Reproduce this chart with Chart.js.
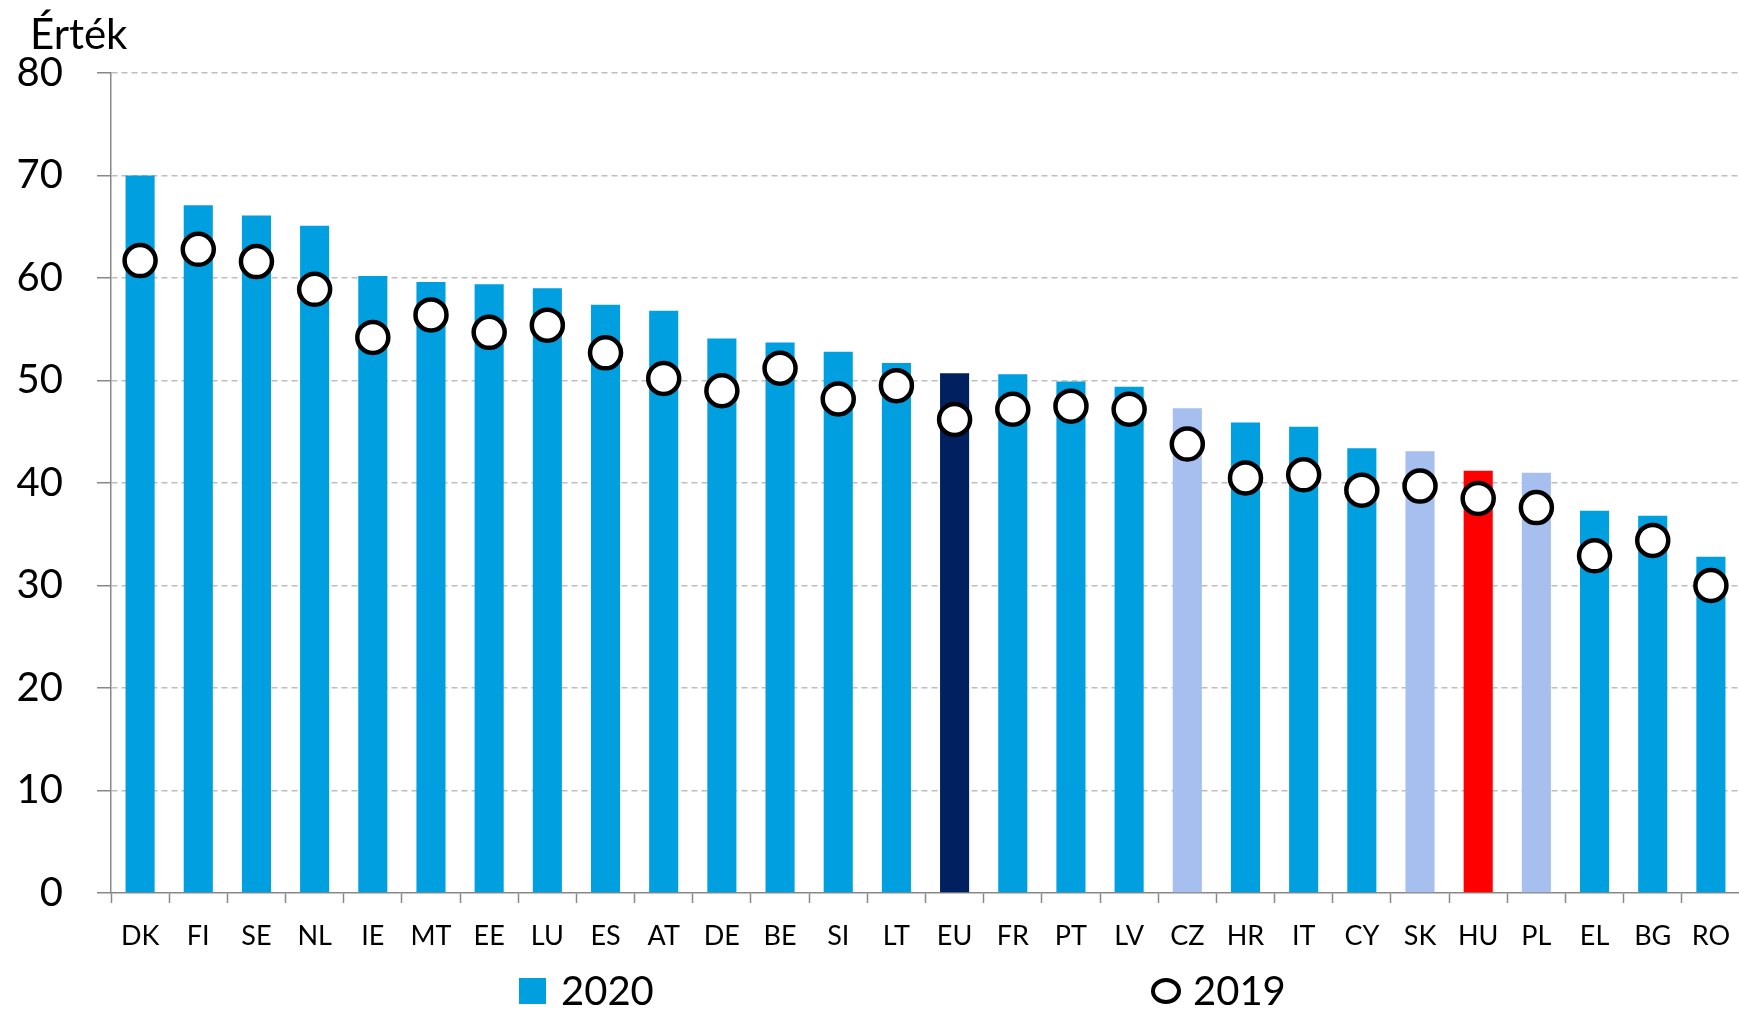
<!DOCTYPE html>
<html>
<head>
<meta charset="utf-8">
<script src="https://cdn.jsdelivr.net/npm/chart.js@4.4.1/dist/chart.umd.min.js"></script>
<style>
  html, body { margin: 0; padding: 0; background: #fff; overflow: hidden; }
  body { width: 1739px; height: 1010px; position: relative; font-family: Lato, sans-serif; }
  #chart { position: absolute; left: 0; top: 0; }
  .lbl { position: absolute; font-family: Lato, sans-serif; color: #000; line-height: 1; white-space: nowrap; }
  #unit { left: 30px; top: 12px; font-size: 42px; }
  .leg-text { font-size: 40px; top: 970px; }
  #sq { position: absolute; left: 519px; top: 978px; width: 27px; height: 26px; background: #009FDF; }
  #ring { position: absolute; left: 1151px; top: 978px; width: 30px; height: 26px; box-sizing: border-box;
          border: 4.5px solid #000; border-radius: 50%; background: #fff; }
</style>
</head>
<body>
<canvas id="chart" width="1760" height="1010"></canvas>
<div class="lbl" id="unit">Érték</div>
<div id="sq"></div>
<div class="lbl leg-text" style="left:561px">2020</div>
<div id="ring"></div>
<div class="lbl leg-text" style="left:1193px">2019</div>
<script>
const countries = ['DK', 'FI', 'SE', 'NL', 'IE', 'MT', 'EE', 'LU', 'ES', 'AT', 'DE', 'BE', 'SI', 'LT',
    'EU', 'FR', 'PT', 'LV', 'CZ', 'HR', 'IT', 'CY', 'SK', 'HU', 'PL', 'EL', 'BG', 'RO'];

const values2020 = [70.0, 67.1, 66.1, 65.1, 60.2, 59.6, 59.4, 59.0, 57.4, 56.8, 54.1, 53.7, 52.8, 51.7,
    50.7, 50.6, 49.9, 49.4, 47.3, 45.9, 45.5, 43.4, 43.1, 41.2, 41.0, 37.3, 36.8, 32.8];

const values2019 = [61.7, 62.8, 61.6, 58.9, 54.2, 56.4, 54.7, 55.4, 52.7, 50.2, 49.0, 51.2, 48.2, 49.5,
    46.2, 47.2, 47.5, 47.2, 43.8, 40.5, 40.8, 39.3, 39.7, 38.5, 37.6, 32.9, 34.4, 30.0];

const yMin = 0;
const yMax = 80;
const yStep = 10;

// bar colours: EU and HU highlighted, V4 neighbours in light blue
const barBlue = '#009FDF';
const specialColors = { EU: '#002060', HU: '#FF0000', CZ: '#A6BFEE', SK: '#A6BFEE', PL: '#A6BFEE' };
const barColors = countries.map(c => specialColors[c] || barBlue);

const axisGray = '#888888';

Chart.defaults.font.family = 'Lato, sans-serif';
Chart.defaults.color = '#000';

new Chart(document.getElementById('chart'), {
    type: 'bar',
    data: {
        labels: countries,
        datasets: [
            {
                type: 'line',
                label: '2019',
                data: values2019,
                showLine: false,
                pointStyle: 'circle',
                pointRadius: 15.5,
                pointHoverRadius: 15.5,
                pointBorderWidth: 4.5,
                pointBorderColor: '#000',
                pointBackgroundColor: '#fff',
                clip: false,
                order: 0
            },
            {
                label: '2020',
                data: values2020,
                backgroundColor: barColors,
                barPercentage: 0.5,
                categoryPercentage: 1.0,
                order: 1
            }
        ]
    },
    options: {
        responsive: false,
        devicePixelRatio: 1,
        animation: false,
        layout: {
            padding: { top: 73, right: 11, left: 0, bottom: 0 }
        },
        plugins: {
            legend: { display: false },
            tooltip: { enabled: false }
        },
        scales: {
            x: {
                grid: {
                    display: true,
                    drawOnChartArea: false,
                    drawTicks: true,
                    offset: true,
                    tickLength: 10,
                    tickColor: axisGray,
                    tickWidth: 1.5
                },
                border: { color: axisGray, width: 1.5 },
                ticks: {
                    font: { size: 27 },
                    padding: 17,
                    maxRotation: 0,
                    autoSkip: false
                },
                afterFit: (scale) => { scale.height = 117; }
            },
            y: {
                min: yMin,
                max: yMax,
                ticks: {
                    stepSize: yStep,
                    font: { size: 40 },
                    padding: 34
                },
                grid: {
                    color: (ctx) => ctx.tick && ctx.tick.value === 0 ? 'rgba(0,0,0,0)' : '#BDBDBD',
                    lineWidth: 1.5,
                    tickLength: 14,
                    tickColor: axisGray,
                    tickWidth: 1.5,
                    tickBorderDash: []
                },
                border: { color: axisGray, width: 1.5, dash: [6, 4] },
                afterFit: (scale) => { scale.width = 111; }
            }
        }
    }
});
</script>
</body>
</html>
